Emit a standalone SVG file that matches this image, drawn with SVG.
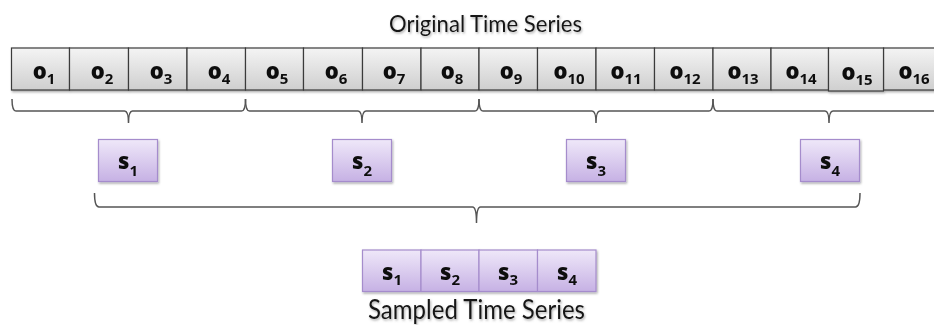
<svg xmlns="http://www.w3.org/2000/svg" width="934" height="325" viewBox="0 0 934 325">
  <defs>
    <linearGradient id="gGray" x1="0" y1="0" x2="0" y2="1">
      <stop offset="0" stop-color="#f4f4f4"/>
      <stop offset="1" stop-color="#cfcfcf"/>
    </linearGradient>
    <linearGradient id="gPurple" x1="0" y1="0" x2="0" y2="1">
      <stop offset="0" stop-color="#efe8f9"/>
      <stop offset="1" stop-color="#c6b1e4"/>
    </linearGradient>
    <filter id="boxShadow" x="-10%" y="-10%" width="130%" height="140%">
      <feDropShadow dx="1" dy="1.5" stdDeviation="1" flood-color="#000" flood-opacity="0.35"/>
    </filter>
    <filter id="textShadow" x="-10%" y="-30%" width="120%" height="170%">
      <feDropShadow dx="1" dy="1.5" stdDeviation="1.2" flood-color="#666" flood-opacity="0.55"/>
    </filter>
  </defs>
  <style>
    .obs { fill: url(#gGray); stroke: #3a3a3a; stroke-width: 1.2; }
    .smp { fill: url(#gPurple); stroke: #a58ccc; stroke-width: 1.2; }
    .lbl { font-family: "Open Sans", "DejaVu Sans", sans-serif; font-weight: 800; font-size: 22px; fill: #111; text-anchor: middle; }
    .sub { font-size: 15px; font-weight: 700; }
    .title { font-family: Lato, "Open Sans", sans-serif; fill: #141414; text-anchor: middle; filter: url(#textShadow); }
    .brace { fill: none; stroke: #555; stroke-width: 1.5; }
  </style>

  <!-- headings -->
  <text class="title" x="485.5" y="32" font-size="23" textLength="193" lengthAdjust="spacingAndGlyphs">Original Time Series</text>
  <text class="title" x="476.5" y="319" font-size="26" textLength="217" lengthAdjust="spacingAndGlyphs">Sampled Time Series</text>

  <!-- original series cells -->
  <g id="original-series" filter="url(#boxShadow)">
    <g id="o1"><rect class="obs" x="11.5" y="48" width="58" height="42"/><text class="lbl" x="44" y="79">o<tspan class="sub" dy="5">1</tspan></text></g>
    <g id="o2"><rect class="obs" x="69.5" y="48" width="59" height="42"/><text class="lbl" x="102" y="79">o<tspan class="sub" dy="5">2</tspan></text></g>
    <g id="o3"><rect class="obs" x="128.5" y="48" width="58.5" height="42"/><text class="lbl" x="161" y="79">o<tspan class="sub" dy="5">3</tspan></text></g>
    <g id="o4"><rect class="obs" x="187" y="48" width="58.5" height="42"/><text class="lbl" x="219" y="79">o<tspan class="sub" dy="5">4</tspan></text></g>
    <g id="o5"><rect class="obs" x="245.5" y="48" width="58" height="42"/><text class="lbl" x="277" y="79">o<tspan class="sub" dy="5">5</tspan></text></g>
    <g id="o6"><rect class="obs" x="303.5" y="48" width="59" height="42"/><text class="lbl" x="336" y="79">o<tspan class="sub" dy="5">6</tspan></text></g>
    <g id="o7"><rect class="obs" x="362.5" y="48" width="58.5" height="42"/><text class="lbl" x="394" y="79">o<tspan class="sub" dy="5">7</tspan></text></g>
    <g id="o8"><rect class="obs" x="421" y="48" width="58" height="42"/><text class="lbl" x="452" y="79">o<tspan class="sub" dy="5">8</tspan></text></g>
    <g id="o9"><rect class="obs" x="479" y="48" width="58.5" height="42"/><text class="lbl" x="511" y="79">o<tspan class="sub" dy="5">9</tspan></text></g>
    <g id="o10"><rect class="obs" x="537.5" y="48" width="58.5" height="42"/><text class="lbl" x="569" y="79">o<tspan class="sub" dy="5">10</tspan></text></g>
    <g id="o11"><rect class="obs" x="596" y="48" width="58.5" height="42"/><text class="lbl" x="626" y="79">o<tspan class="sub" dy="5">11</tspan></text></g>
    <g id="o12"><rect class="obs" x="654.5" y="48" width="58.5" height="42"/><text class="lbl" x="685" y="79">o<tspan class="sub" dy="5">12</tspan></text></g>
    <g id="o13"><rect class="obs" x="713" y="48" width="58" height="42"/><text class="lbl" x="743" y="79">o<tspan class="sub" dy="5">13</tspan></text></g>
    <g id="o14"><rect class="obs" x="771" y="48" width="57.5" height="42"/><text class="lbl" x="801" y="79">o<tspan class="sub" dy="5">14</tspan></text></g>
    <g id="o16"><rect class="obs" x="883.5" y="48" width="58" height="42"/><text class="lbl" x="914" y="79">o<tspan class="sub" dy="5">16</tspan></text></g>
    <g id="o15"><rect class="obs" x="828.5" y="48" width="55" height="43"/><text class="lbl" x="857" y="80">o<tspan class="sub" dy="5">15</tspan></text></g>
  </g>

  <!-- brackets -->
  <g id="connectors">
    <path class="brace" d="M12 99 Q12 111 16 111 L124.5 111 Q128.5 111 128.5 123 Q128.5 111 132.5 111 L241.5 111 Q245.5 111 245.5 99"/>
    <path class="brace" d="M245.5 99 Q245.5 111 249.5 111 L358 111 Q362 111 362 123 Q362 111 366 111 L475 111 Q479 111 479 99"/>
    <path class="brace" d="M479 99 Q479 111 483 111 L592 111 Q596 111 596 123 Q596 111 600 111 L709 111 Q713 111 713 99"/>
    <path class="brace" d="M713 99 Q713 111 717 111 L825 111 Q829 111 829 123 Q829 111 833 111 L942 111 Q946 111 946 99"/>
    <path class="brace" d="M94.5 193 Q94.5 207 99 207 L472.5 207 Q476.5 207 476.5 223 Q476.5 207 480.5 207 L855.5 207 Q860 207 860 193"/>
  </g>

  <!-- sampled points -->
  <g id="samples" filter="url(#boxShadow)">
    <g id="s1"><rect class="smp" x="98.5" y="139.5" width="59" height="42"/><text class="lbl" x="128" y="169" font-size="23">s<tspan class="sub" dy="7">1</tspan></text></g>
    <g id="s2"><rect class="smp" x="332.5" y="139.5" width="59" height="42"/><text class="lbl" x="362" y="169" font-size="23">s<tspan class="sub" dy="7">2</tspan></text></g>
    <g id="s3"><rect class="smp" x="566.5" y="139.5" width="59" height="42"/><text class="lbl" x="596" y="169" font-size="23">s<tspan class="sub" dy="7">3</tspan></text></g>
    <g id="s4"><rect class="smp" x="800.5" y="139.5" width="59" height="42"/><text class="lbl" x="830" y="169" font-size="23">s<tspan class="sub" dy="7">4</tspan></text></g>
  </g>

  <!-- sampled series cells -->
  <g id="sampled-series" filter="url(#boxShadow)">
    <g id="ss1"><rect class="smp" x="362.5" y="250" width="58.5" height="41.5"/><text class="lbl" x="392" y="280" font-size="23">s<tspan class="sub" dy="5">1</tspan></text></g>
    <g id="ss2"><rect class="smp" x="421" y="250" width="58" height="41.5"/><text class="lbl" x="450" y="280" font-size="23">s<tspan class="sub" dy="5">2</tspan></text></g>
    <g id="ss3"><rect class="smp" x="479" y="250" width="58.5" height="41.5"/><text class="lbl" x="508" y="280" font-size="23">s<tspan class="sub" dy="5">3</tspan></text></g>
    <g id="ss4"><rect class="smp" x="537.5" y="250" width="58.5" height="41.5"/><text class="lbl" x="567" y="280" font-size="23">s<tspan class="sub" dy="5">4</tspan></text></g>
  </g>
</svg>
